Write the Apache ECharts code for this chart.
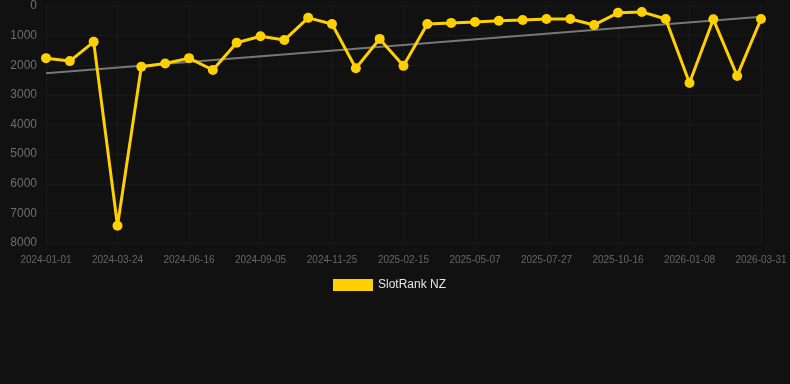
<!DOCTYPE html>
<html>
<head>
<meta charset="utf-8">
<script src="https://cdn.jsdelivr.net/npm/echarts@6/dist/echarts.min.js"></script>
<style>
  html, body { margin: 0; padding: 0; background: #111111; }
  #main { width: 790px; height: 384px; }
</style>
</head>
<body>
<div id="main"></div>
<script>
  // dates on the x axis (every third one gets a label)
  var dates = [
    '2024-01-01', '2024-01-28', '2024-02-25', '2024-03-24', '2024-04-21', '2024-05-19',
    '2024-06-16', '2024-07-13', '2024-08-09', '2024-09-05', '2024-10-02', '2024-10-29',
    '2024-11-25', '2024-12-22', '2025-01-19', '2025-02-15', '2025-03-14', '2025-04-10',
    '2025-05-07', '2025-06-03', '2025-06-30', '2025-07-27', '2025-08-23', '2025-09-19',
    '2025-10-16', '2025-11-13', '2025-12-11', '2026-01-08', '2026-02-04', '2026-03-03',
    '2026-03-31'
  ];
  // rank values
  var rankNZ = [
    1760, 1860, 1210, 7420, 2050, 1940, 1760, 2160, 1240, 1020, 1150,
    400, 610, 2100, 1110, 2020, 610, 570, 540, 500, 470, 440,
    440, 640, 230, 200, 440, 2600, 450, 2360, 440
  ];
  var yTicks = [0, 1000, 2000, 3000, 4000, 5000, 6000, 7000, 8000];

  // linear trend line through the ranks
  var n = rankNZ.length, sx = 0, sy = 0, sxy = 0, sxx = 0;
  for (var i = 0; i < n; i++) {
    sx += i; sy += rankNZ[i]; sxy += i * rankNZ[i]; sxx += i * i;
  }
  var slope = (n * sxy - sx * sy) / (n * sxx - sx * sx);
  var icpt = (sy - slope * sx) / n;
  var trend = [];
  for (var j = 0; j < n; j++) {
    trend.push((j === 0 || j === n - 1) ? Math.round(icpt + slope * j) : null);
  }

  var myChart = echarts.init(document.getElementById('main'));
  var option = {
    backgroundColor: '#111111',
    animation: false,
    grid: { left: 46, right: 29, top: 6, bottom: 141 },
    legend: {
      bottom: 88,
      left: 328,
      icon: 'rect',
      itemWidth: 40,
      itemHeight: 12,
      data: ['SlotRank NZ'],
      textStyle: { color: '#e6e6e6', fontSize: 12, fontFamily: 'Arial, Liberation Sans, sans-serif' }
    },
    xAxis: {
      type: 'category',
      data: dates,
      boundaryGap: false,
      axisLine: { show: false },
      axisTick: { show: false },
      axisLabel: {
        interval: 2,
        color: '#666666',
        fontSize: 10,
        margin: 12,
        fontFamily: 'Arial, Liberation Sans, sans-serif'
      },
      splitLine: { show: true, interval: 2, lineStyle: { color: '#1a1a1a' } }
    },
    yAxis: {
      type: 'value',
      inverse: true,
      min: yTicks[0],
      max: yTicks[yTicks.length - 1],
      interval: 1000,
      axisLine: { show: false },
      axisTick: { show: false },
      axisLabel: {
        color: '#6e6e6e',
        fontSize: 12,
        margin: 9,
        formatter: function (v) { return String(v); },
        fontFamily: 'Arial, Liberation Sans, sans-serif'
      },
      splitLine: { lineStyle: { color: '#1a1a1a' } }
    },
    series: [
      {
        name: 'trend',
        type: 'line',
        data: trend,
        connectNulls: true,
        symbol: 'none',
        silent: true,
        lineStyle: { color: '#777777', width: 2 },
        z: 1
      },
      {
        name: 'SlotRank NZ',
        type: 'line',
        data: rankNZ,
        symbol: 'circle',
        symbolSize: 10,
        itemStyle: { color: '#FFD000' },
        lineStyle: { color: '#FFD000', width: 3 },
        z: 2
      }
    ]
  };
  myChart.setOption(option);
</script>
</body>
</html>
